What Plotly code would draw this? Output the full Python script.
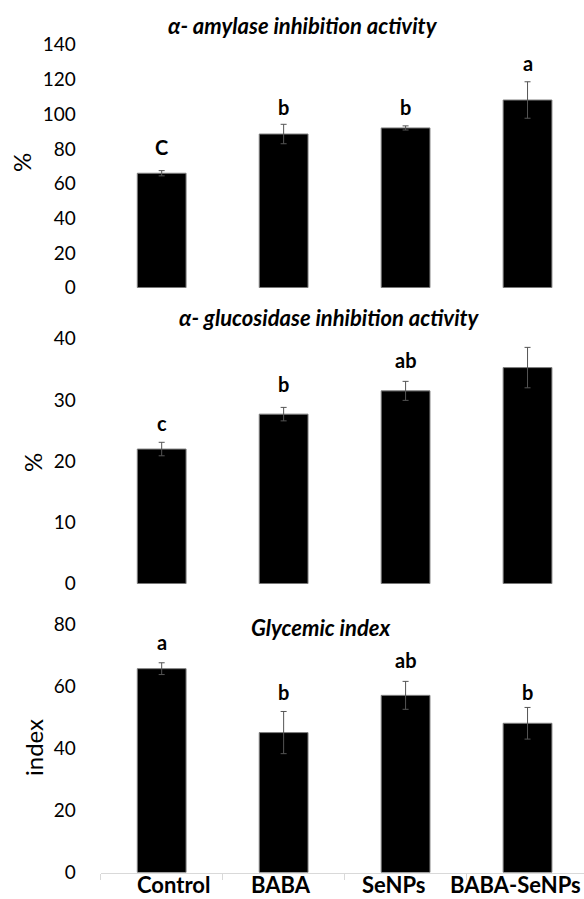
import plotly.graph_objects as go

W, H = 584, 899

categories = ["Control", "BABA", "SeNPs", "BABA-SeNPs"]

amylase = [66.0, 88.6, 92.1, 108.2]
amylase_err = [1.5, 5.6, 1.2, 10.5]
amylase_letters = ["C", "b", "b", "a"]
amylase_letter_y = [81.3, 104.3, 104.3, 129.7]

glucosidase = [22.0, 27.7, 31.5, 35.3]
glucosidase_err = [1.1, 1.1, 1.55, 3.3]
glucosidase_letters = ["c", "b", "ab", "a"]
glucosidase_letter_y = [26.2, 32.6, 36.5, 41.5]

glycemic = [65.7, 45.1, 57.1, 48.1]
glycemic_err = [1.9, 6.8, 4.5, 5.1]
glycemic_letters = ["a", "b", "ab", "b"]
glycemic_letter_y = [74.2, 58.3, 68.5, 58.3]

titles = ["α- amylase inhibition activity", "α- glucosidase inhibition activity", "Glycemic index"]
y_titles = ["%", "%", "index"]
y_ranges = [[0, 140], [0, 40], [0, 80]]
y_dtick = [20, 10, 20]

FONT = "Lato"

def px_x(p):
    return p / W

def px_y(p):
    return 1 - p / H

# vertical domains (pixel top/bottom)
dom_px = [(44.8, 287.8), (338.8, 583.8), (624.3, 872.5)]
x_dom = [px_x(100.7), 1.0]

fig = go.Figure()

series = [
    (amylase, amylase_err, amylase_letters, amylase_letter_y),
    (glucosidase, glucosidase_err, glucosidase_letters, glucosidase_letter_y),
    (glycemic, glycemic_err, glycemic_letters, glycemic_letter_y),
]

annotations = []
for i, (vals, errs, letters, ly) in enumerate(series):
    xa = "x" if i == 0 else f"x{i+1}"
    ya = "y" if i == 0 else f"y{i+1}"
    fig.add_trace(go.Bar(
        x=categories, y=vals, xaxis=xa, yaxis=ya,
        marker=dict(color="#000000", line=dict(color="#7f7f7f", width=1)),
        width=0.4,
        error_y=dict(type="data", array=errs, visible=True, color="#555555", thickness=1, width=3),
        showlegend=False, hoverinfo="skip",
    ))
    for c, t, yv in zip(categories, letters, ly):
        annotations.append(dict(
            x=c, y=yv, xref=xa, yref=ya, text=f"<b>{t}</b>", showarrow=False,
            font=dict(family=FONT, size=20, color="#000000"), xanchor="center", yanchor="middle",
        ))

# titles
title_pos = [(303, 25), (329, 317.3), (320.6, 627.7)]
for t, (tx, ty) in zip(titles, title_pos):
    annotations.append(dict(
        x=px_x(tx), y=px_y(ty), xref="paper", yref="paper", text=f"<b><i>{t}</i></b>",
        showarrow=False, font=dict(family=FONT, size=22, color="#000000"),
        xanchor="center", yanchor="middle",
    ))

# y-axis titles
ytitle_pos = [(21, 163), (32, 463), (33, 748)]
for t, (tx, ty) in zip(y_titles, ytitle_pos):
    annotations.append(dict(
        x=px_x(tx), y=px_y(ty), xref="paper", yref="paper", text=t, textangle=-90,
        showarrow=False, font=dict(family=FONT, size=24, color="#000000"),
        xanchor="center", yanchor="middle",
    ))

# category labels under bottom panel
label_shift = [12, -3, -12, -12]
for c, s in zip(categories, label_shift):
    annotations.append(dict(
        x=c, xref="x3", y=px_y(884), yref="paper", text=f"<b>{c}</b>", xshift=s,
        showarrow=False, font=dict(family=FONT, size=22, color="#000000"),
        xanchor="center", yanchor="middle",
    ))

layout = dict(
    width=W, height=H,
    margin=dict(l=0, r=0, t=0, b=0),
    paper_bgcolor="white", plot_bgcolor="white",
    template="none",
    bargap=0.6,
    annotations=annotations,
    font=dict(family=FONT, color="#000000"),
)

for i in range(3):
    xk = "xaxis" if i == 0 else f"xaxis{i+1}"
    yk = "yaxis" if i == 0 else f"yaxis{i+1}"
    xa_anchor = "y" if i == 0 else f"y{i+1}"
    ya_anchor = "x" if i == 0 else f"x{i+1}"
    top, bot = dom_px[i]
    last = (i == 2)
    layout[xk] = dict(
        domain=x_dom, anchor=xa_anchor, type="category",
        range=[-0.5, 3.463],
        showticklabels=False,
        showline=last, linecolor="#d9d9d9", linewidth=1,
        ticks="outside" if last else "", tickson="boundaries", ticklen=6, tickcolor="#d9d9d9",
        showgrid=False, zeroline=False, automargin=False, fixedrange=True,
    )
    layout[yk] = dict(
        domain=[px_y(bot), px_y(top)], anchor=ya_anchor,
        range=y_ranges[i], dtick=y_dtick[i], tick0=0,
        showgrid=False, zeroline=False, showline=False, ticks="",
        ticklabelstandoff=24,
        tickfont=dict(family=FONT, size=19, color="#000000"),
        automargin=False, fixedrange=True,
    )

fig.update_layout(**layout)
fig.write_html(
    "out.html",
    config={"displayModeBar": False},
    post_script="document.body.style.margin='0';document.body.style.padding='0';",
)
